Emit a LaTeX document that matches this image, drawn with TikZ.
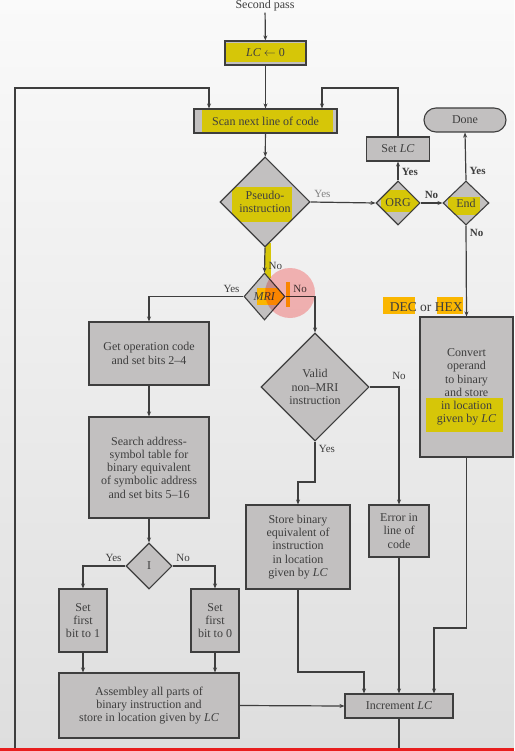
\documentclass[tikz,border=0pt]{standalone}
\usepackage{fontspec}
\setmainfont{Liberation Serif}
\usetikzlibrary{shapes.geometric,arrows.meta}
\definecolor{ink}{RGB}{62,62,62}
\definecolor{boxgray}{RGB}{194,192,192}
\definecolor{bgtop}{RGB}{250,250,250}
\definecolor{bgbot}{RGB}{222,222,222}
\definecolor{hilite}{RGB}{214,198,8}
\definecolor{hiorange}{RGB}{250,182,0}
\definecolor{penmark}{RGB}{255,170,170}
\definecolor{playbar}{RGB}{232,30,30}
\tikzset{
	flow/.style={draw=ink, line width=1.2pt, -{Stealth[length=5pt,width=4pt]}},
	box/.style={draw=ink, line width=1.1pt, fill=boxgray, text=ink, align=center, inner sep=1pt},
	decide/.style={diamond, draw=ink, line width=1.1pt, fill=boxgray, text=ink, align=center, inner sep=0pt},
	lab/.style={text=ink, font=\fontsize{11}{12}\selectfont},
	blab/.style={lab, font=\fontsize{11}{12}\selectfont\bfseries},
	% marker stroke inside a node, corners given from its centre
	hlbox/.style n args={5}{path picture={\fill[#5]
		([shift={(#1,#2)}]path picture bounding box.center) rectangle
		([shift={(#3,#4)}]path picture bounding box.center);}},
}
\begin{document}
\begin{tikzpicture}[x=1pt, y=-1pt, font=\fontsize{12}{13.3}\selectfont]
	\useasboundingbox (0,0) rectangle (514,751);
	\clip (0,0) rectangle (514,751);
	\shade[top color=bgtop, bottom color=bgbot] (0,0) rectangle (514,751);

	% marker strokes outside the boxes
	\fill[hilite] (265,243) rectangle (271,278);
	\fill[hiorange] (286,282) rectangle (290,307);
	\fill[hiorange] (383,297) rectangle (415,314);
	\fill[hiorange] (437,297) rectangle (463,314);

	% top of the pass
	\node[text=ink, inner sep=1pt] (pass) at (265,6) {Second pass};
	\node[box, minimum width=81pt, minimum height=24pt, hlbox={-42.5}{-10}{42.5}{9}{hilite}] (lc) at (265.5,53) {\textit{LC} $\leftarrow$ 0};
	\node[box, minimum width=143pt, minimum height=24pt, hlbox={-63.5}{-11}{67.5}{11}{hilite}] (scan) at (265.5,121) {Scan next line of code};
	\node[box, minimum width=63pt, minimum height=24pt] (setlc) at (398,149) {Set \textit{LC}};
	\node[box, rounded corners=12pt, minimum width=82pt, minimum height=24pt] (done) at (465,120) {Done};

	% decisions
	\node[decide, minimum width=90pt, minimum height=90pt, hlbox={-33}{-15}{27}{20}{hilite}] (pseudo) at (265,202) {Pseudo-\\instruction};
	\node[decide, minimum width=44pt, minimum height=44pt, hlbox={-17}{-13}{22}{9}{hilite}] (org) at (398,203) {ORG};
	\node[decide, minimum width=46pt, minimum height=44pt, hlbox={-18}{-6}{14}{12}{hilite}] (end) at (466,203) {End};
	\node[decide, minimum width=41pt, minimum height=47pt, hlbox={-7.5}{-8.5}{20.5}{8.5}{hiorange}] (mri) at (264.5,296.5) {\textit{MRI}};
	\node[decide, minimum width=108pt, minimum height=108pt] (valid) at (315,387) {Valid\\non--MRI\\instruction};
	\node[decide, minimum width=46pt, minimum height=46pt] (bit) at (149,566) {I};

	% left column (MRI)
	\node[box, minimum width=120pt, minimum height=63pt] (getop) at (149,353.5) {Get operation code\\and set bits 2--4};
	\node[box, minimum width=120pt, minimum height=101pt] (search) at (149,467.5) {Search address-\\symbol table for\\binary equivalent\\of symbolic address\\and set bits 5--16};
	\node[box, minimum width=48pt, minimum height=63pt] (setone) at (83,620.5) {Set\\first\\bit to 1};
	\node[box, minimum width=48pt, minimum height=63pt] (setzero) at (215,620.5) {Set\\first\\bit to 0};
	\node[box, minimum width=180pt, minimum height=65pt] (asm) at (149,705.5) {Assembley all parts of\\binary instruction and\\store in location given by \textit{LC}};

	% right side
	\node[box, minimum width=93pt, minimum height=140pt, hlbox={-40.5}{11}{36.5}{45}{hilite}] (convert) at (466.5,387) {Convert\\operand\\to binary\\and store\\in location\\given by \textit{LC}};
	\node[box, minimum width=104pt, minimum height=84pt] (store) at (298,547) {Store binary\\equivalent of\\instruction\\in location\\given by \textit{LC}};
	\node[box, minimum width=60pt, minimum height=52pt] (error) at (399,531) {Error in\\line of\\code};
	\node[box, minimum width=108pt, minimum height=24pt] (inc) at (399,706) {Increment \textit{LC}};

	% bends of the connectors
	\coordinate (orgin) at (322,88);
	\coordinate (loopin) at (209,88);
	\coordinate (loopbot) at (15,790);
	\coordinate (validout) at (298,482);
	\coordinate (storein) at (364,672);
	\coordinate (convin) at (434,628);

	\draw[flow] (pass) -- (lc);
	\draw[flow] (lc) -- (scan);
	\draw[flow] (scan) -- (pseudo);
	\draw[flow] (pseudo.east) -- node[lab, text=gray, above right, pos=0] (pyes) {Yes} (org.west);
	\draw[flow] (org.north) -- node[blab, right, pos=0.45] (oyes) {Yes} (setlc.south);
	\draw[flow] (setlc.north) |- (orgin) -- (orgin |- scan.north);
	\draw[flow] (org.east) -- node[blab, above] (ono) {No} (end.west);
	\draw[flow] (end.north) -- node[blab, right, pos=0.2] (eyes) {Yes} (done.south);
	\draw[flow] (end.south) -- node[blab, below right, pos=0] (eno) {No}
		node[lab, left, pos=0.9, font=\fontsize{13.5}{14}\selectfont] (dechex) {DEC or HEX} (convert.north);
	\draw[flow] (pseudo.south) -- node[lab, right, pos=0.75] (pno) {No} (mri.north);
	\draw[flow] (mri.west) -| node[lab, above left, pos=0] (myes) {Yes} (getop.north);
	\draw[flow] (mri.east) -| node[lab, above right, pos=0, xshift=4pt] (mno) {No} (valid.north);
	\draw[flow] (getop) -- (search);
	\draw[flow] (search) -- (bit);
	\draw[flow] (bit.west) -| node[lab, above left, pos=0] (iyes) {Yes} (setone.north);
	\draw[flow] (bit.east) -| node[lab, above right, pos=0] (ino) {No} (setzero.north);
	\draw[flow] (setone) -- (setone |- asm.north);
	\draw[flow] (setzero) -- (setzero |- asm.north);
	\draw[flow] (asm.east) -- (inc.west);
	\draw[flow] (valid.east) -| node[lab, above, pos=0.5, yshift=3pt] (vno) {No} (error.north);
	\draw[flow] (valid.south) |- node[lab, below right, pos=0] (vyes) {Yes} (validout) -- (store.north);
	\draw[flow] (store.south) |- (storein) -- (storein |- inc.north);
	\draw[flow] (error) -- (error |- inc.north);
	\draw[flow] (convert.south) |- (convin) -- (convin |- inc.north);
	% back to the scan box
	\draw[flow] (inc.south) |- (loopbot) |- (loopin) -- (loopin |- scan.north);

	% pointer mark and player bar
	\fill[penmark, opacity=0.8, blend mode=multiply] (290,293) circle (25);
	\fill[playbar] (0,748) rectangle (514,751);
\end{tikzpicture}
\end{document}
